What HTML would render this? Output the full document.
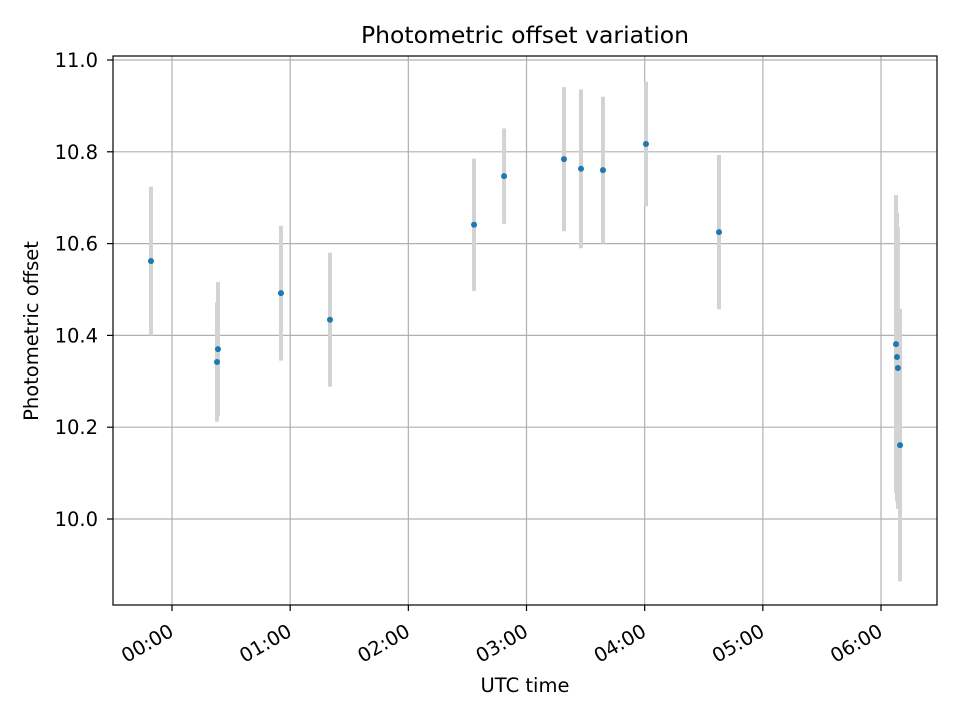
<!DOCTYPE html>
<html><head><meta charset="utf-8"><style>
body{margin:0;background:#fff;font-family:"DejaVu Sans","Liberation Sans",sans-serif}
</style></head><body>
<svg width="960" height="720" viewBox="0 0 960 720" id="chart" font-family="DejaVu Sans, Liberation Sans, sans-serif">
<rect width="960" height="720" fill="#fff"/>
<g id="grid"></g><g id="bars"></g><g id="pts"></g>
<rect x="113" y="56" width="824" height="549" fill="none" stroke="#000" stroke-width="1.2"/>
<g id="axes" font-size="19.5"></g>
<text x="525" y="43" font-size="23.5" text-anchor="middle">Photometric offset variation</text>
<text x="525" y="692" font-size="19.5" text-anchor="middle">UTC time</text>
<text x="38" y="331" font-size="19.5" text-anchor="middle" transform="rotate(-90 38 331)">Photometric offset</text>
</svg>
<script>
const times=[-0.178,0.381,0.389,0.922,1.337,2.556,2.81,3.317,3.461,3.647,4.011,4.629,6.127,6.135,6.143,6.161];
const values=[10.562,10.342,10.370,10.492,10.434,10.641,10.747,10.784,10.763,10.760,10.817,10.625,10.381,10.353,10.329,10.161];
const errors=[0.162,0.13,0.146,0.147,0.146,0.144,0.104,0.157,0.173,0.16,0.136,0.168,0.325,0.314,0.307,0.297];
const yTicks=[10.0,10.2,10.4,10.6,10.8,11.0];
const xTicks=[0,1,2,3,4,5,6];
const xTickLabels=["00:00","01:00","02:00","03:00","04:00","05:00","06:00"];
const NS="http://www.w3.org/2000/svg";
const X=t=>172+t*118.17;
const Y=v=>519-(v-10)*459;
function mk(tag,attrs,parent,txt){const e=document.createElementNS(NS,tag);for(const k in attrs)e.setAttribute(k,attrs[k]);if(txt!==undefined)e.textContent=txt;document.getElementById(parent).appendChild(e);return e;}
yTicks.forEach((v,i)=>{
 const g=mk('line',{x1:113,x2:937,y1:Y(v),y2:Y(v),stroke:'#b0b0b0','stroke-width':1.2},'grid');
 
 
 mk('line',{x1:107,x2:113,y1:Y(v),y2:Y(v),stroke:'#000','stroke-width':1.2},'axes');
 const t=mk('text',{x:98,y:Y(v)+7,'text-anchor':'end'},'axes',v.toFixed(1));
 
 
});
xTicks.forEach((h,i)=>{
 const g=mk('line',{x1:X(h),x2:X(h),y1:56,y2:605,stroke:'#b0b0b0','stroke-width':1.2},'grid');
 
 
 mk('line',{x1:X(h),x2:X(h),y1:605,y2:611,stroke:'#000','stroke-width':1.2},'axes');
 const tx=X(h)+3,ty=635;
 const t=mk('text',{x:tx,y:ty,'text-anchor':'end',transform:`rotate(-30 ${tx} ${ty})`},'axes',xTickLabels[i]);
 
 
});
times.forEach((t,i)=>{
 const b=mk('line',{x1:X(t),x2:X(t),y1:Y(values[i]+errors[i]),y2:Y(values[i]-errors[i]),stroke:'#d3d3d3','stroke-width':4},'bars');
 
 
 const p=mk('circle',{cx:X(t),cy:Y(values[i]),r:3,fill:'#1f77b4'},'pts');
 
 
});
</script>
</body></html>
